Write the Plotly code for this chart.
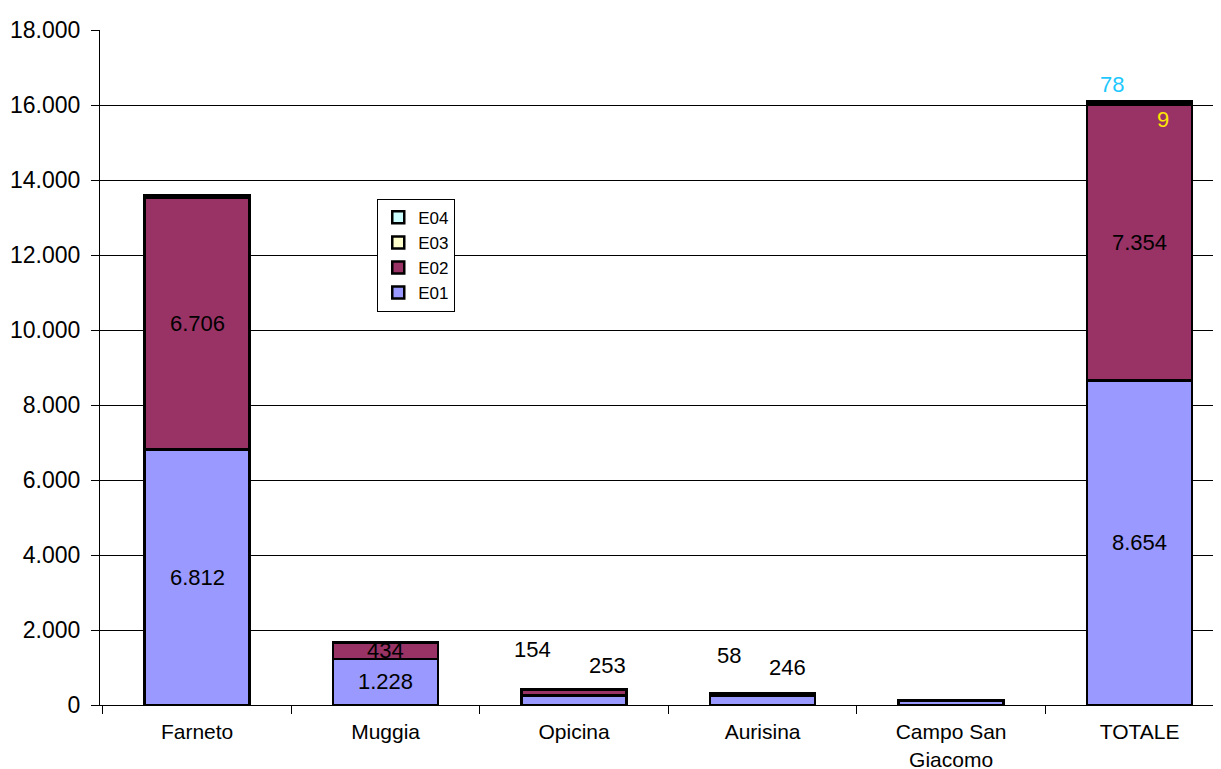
import plotly.graph_objects as go

categories = ["Farneto", "Muggia", "Opicina", "Aurisina", "Campo San<br>Giacomo", "TOTALE"]
e01 = [6812, 1228, 253, 246, 115, 8654]
e02 = [6706, 434, 154, 58, 2, 7354]
e03 = [5, 2, 1, 1, 0, 9]
e04 = [60, 10, 3, 5, 0, 78]
y_ticks = list(range(0, 18001, 2000))

colors = {"E01": "#9999FF", "E02": "#993366", "E03": "#FFFFCC", "E04": "#CCFFFF"}
series = [("E01", e01), ("E02", e02), ("E03", e03), ("E04", e04)]

def fmt(v):
    return f"{v:,}".replace(",", ".")

FONT = "Liberation Sans, Arial"

fig = go.Figure()
for name, vals in series:
    fig.add_trace(go.Bar(
        x=categories, y=vals, name=name,
        marker=dict(color=colors[name], line=dict(color="black", width=2.5)),
        width=0.557,
    ))

font_lbl = dict(family=FONT, size=22, color="black")
ann = []
for i, c in enumerate(categories):
    if i in (0, 1, 5):
        ann.append(dict(x=c, y=e01[i] / 2, text=fmt(e01[i]), showarrow=False, font=font_lbl))
        ann.append(dict(x=c, y=e01[i] + e02[i] / 2, text=fmt(e02[i]), showarrow=False, font=font_lbl))
for i, (dx1, dy1, dx2, dy2) in [(2, (-42, 40, 33, 24)), (3, (-34, 38, 25, 26))]:
    top = e01[i] + e02[i] + e03[i] + e04[i]
    ann.append(dict(x=categories[i], y=top, text=fmt(e02[i]), showarrow=False, font=font_lbl,
                    xshift=dx1, yshift=dy1))
    ann.append(dict(x=categories[i], y=top, text=fmt(e01[i]), showarrow=False, font=font_lbl,
                    xshift=dx2, yshift=dy2))
t = 5
top_t = e01[t] + e02[t] + e03[t] + e04[t]
ann.append(dict(x=categories[t], y=top_t, text=fmt(e04[t]), showarrow=False,
                font=dict(family=FONT, size=22, color="#1EC8FF"), xshift=-28, yshift=17))
ann.append(dict(x=categories[t], y=top_t, text=fmt(e03[t]), showarrow=False,
                font=dict(family=FONT, size=22, color="#FFE600"), xshift=23, yshift=-18))

fig.update_layout(
    barmode="stack",
    separators=",.",
    width=1213, height=761,
    margin=dict(l=92, r=3, t=22, b=64, autoexpand=False),
    plot_bgcolor="white", paper_bgcolor="white",
    font=dict(family=FONT, size=21, color="black"),
    annotations=ann,
    legend=dict(
        x=0.248, y=0.75, xanchor="left", yanchor="top",
        traceorder="reversed",
        bordercolor="black", borderwidth=1, bgcolor="white",
        font=dict(size=17), itemwidth=30, tracegroupgap=0,
    ),
    xaxis=dict(
        range=[-0.515, 5.416],
        showline=True, linecolor="black", linewidth=1,
        ticks="outside", tickson="boundaries", ticklen=8, tickcolor="black",
        showgrid=False, ticklabelstandoff=8, automargin=False,
    ),
    yaxis=dict(
        range=[0, 18000], tickvals=y_ticks, tickformat=",d",
        showline=True, linecolor="black", linewidth=1,
        ticks="outside", ticklen=8, tickcolor="black",
        showgrid=True, gridcolor="black", gridwidth=1,
        zeroline=False, tickfont=dict(size=23), automargin=False,
        ticklabelstandoff=6,
    ),
)

fig.write_html("out.html")
